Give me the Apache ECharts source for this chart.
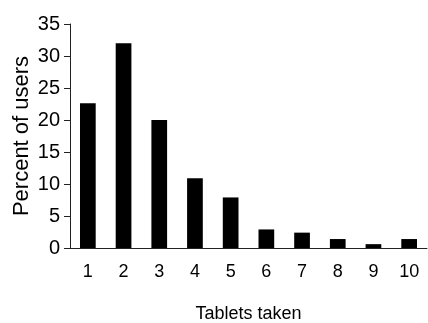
<!DOCTYPE html>
<html>
<head>
<meta charset="utf-8">
<script src="https://cdn.jsdelivr.net/npm/echarts@6/dist/echarts.min.js"></script>
<style>html,body{margin:0;padding:0;background:#fff}#c{width:428px;height:323px}</style>
</head>
<body>
<div id="c"></div>
<script>
var categories = ['1','2','3','4','5','6','7','8','9','10'];
var percentUsers = [22.6, 32.0, 20.0, 10.9, 7.9, 2.9, 2.4, 1.4, 0.6, 1.4];
var yTicks = [0, 5, 10, 15, 20, 25, 30, 35];

var chart = echarts.init(document.getElementById('c'), null, {renderer: 'canvas'});
var font = 'Liberation Sans, Arial, sans-serif';
chart.setOption({
  animation: false,
  backgroundColor: '#fff',
  grid: {left: 70, right: 1, top: 24, bottom: 75, containLabel: false, outerBoundsMode: 'none'},
  xAxis: {
    type: 'category',
    data: categories,
    name: 'Tablets taken',
    nameLocation: 'middle',
    nameGap: 57,
    nameTextStyle: {fontFamily: font, fontSize: 18, color: '#000'},
    axisLine: {lineStyle: {color: '#222', width: 1}},
    axisTick: {length: 6, lineStyle: {color: '#222'}},
    axisLabel: {fontFamily: font, fontSize: 18, color: '#000', margin: 15}
  },
  yAxis: {
    type: 'value',
    min: yTicks[0],
    max: yTicks[yTicks.length - 1],
    interval: 5,
    name: 'Percent of users',
    nameLocation: 'middle',
    nameGap: 37,
    nameMoveOverlap: false,
    nameTextStyle: {fontFamily: font, fontSize: 22, color: '#000'},
    axisLine: {show: true, lineStyle: {color: '#222', width: 1}},
    axisTick: {show: true, length: 6, lineStyle: {color: '#222'}},
    splitLine: {show: false},
    axisLabel: {fontFamily: font, fontSize: 20, color: '#000', margin: 10}
  },
  series: [{
    type: 'bar',
    data: percentUsers,
    barWidth: '44%',
    itemStyle: {color: '#000'}
  }]
});
</script>
</body>
</html>
